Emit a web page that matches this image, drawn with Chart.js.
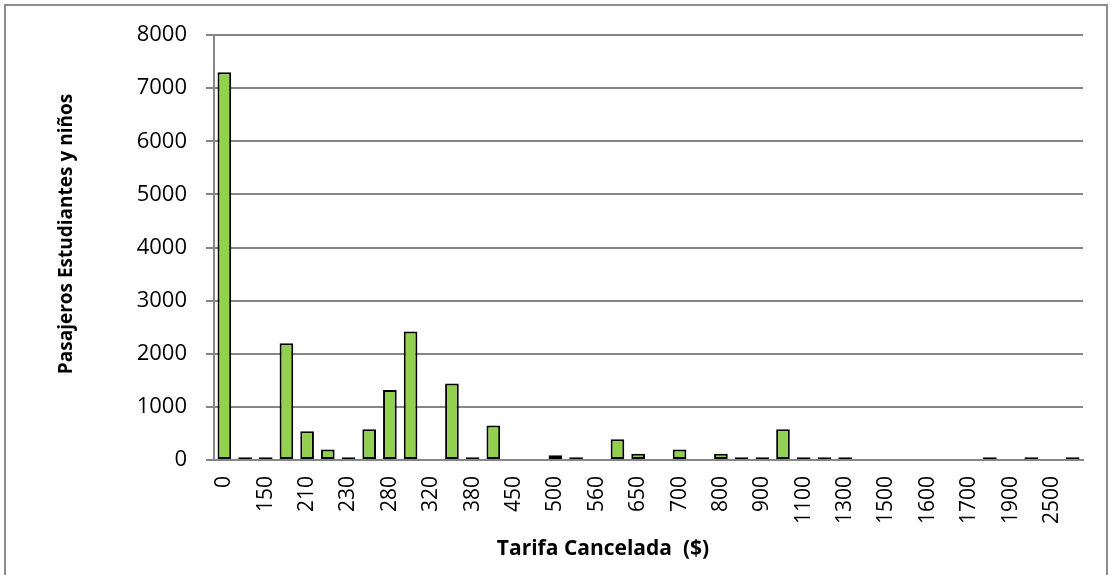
<!DOCTYPE html>
<html>
  <head>
    <title>Tarifa Cancelada</title>
    <script src="https://cdn.jsdelivr.net/npm/chart.js"></script>
    <style>
      body { margin: 0; background: #fff; }
    </style>
  </head>
  <body>
    <canvas id="tarifaChart" width="1110" height="575"></canvas>

    <script>
      // fare categories (only every other one is labelled on the axis)
      var tarifas = [
        '0', '', '150', '', '210', '', '230', '', '280', '', '320', '', '380', '',
        '450', '', '500', '', '560', '', '650', '', '700', '', '800', '', '900', '',
        '1100', '', '1300', '', '1500', '', '1600', '', '1700', '', '1900', '', '2500', ''
      ];
      // passengers (students and children) per fare
      var pasajeros = [
        7300, 50, 50, 2200, 540, 200, 50, 580, 1320, 2420, 0, 1440, 50, 650,
        0, 0, 90, 50, 0, 390, 120, 0, 200, 0, 120, 50, 50, 580,
        50, 50, 50, 0, 0, 0, 0, 0, 0, 50, 0, 50, 0, 50
      ];
      var yTicks = [0, 1000, 2000, 3000, 4000, 5000, 6000, 7000, 8000];

      var gridGrey = '#868686';
      var fontFamily = '"Open Sans", sans-serif';

      // outer frame and axis titles
      var framePlugin = {
        id: 'frame',
        beforeDraw: function (chart) {
          var ctx = chart.ctx;
          ctx.save();
          ctx.fillStyle = '#fff';
          ctx.fillRect(0, 0, chart.width, chart.height);
          ctx.strokeStyle = '#8c8c8c';
          ctx.lineWidth = 2;
          ctx.strokeRect(5, 5, chart.width - 8, chart.height + 10);
          ctx.restore();
        },
        afterDraw: function (chart) {
          var ctx = chart.ctx;
          ctx.save();
          ctx.fillStyle = '#000';
          ctx.textAlign = 'center';
          ctx.textBaseline = 'middle';
          ctx.font = 'bold 21px ' + fontFamily;
          ctx.fillText('Tarifa Cancelada  ($)', 603, 549);
          ctx.font = 'bold 19px ' + fontFamily;
          ctx.translate(67, 234);
          ctx.rotate(-Math.PI / 2);
          ctx.fillText('Pasajeros Estudiantes y niños', 0, 0);
          ctx.restore();
        }
      };

      var ctx = document.getElementById('tarifaChart').getContext('2d');
      var tarifaChart = new Chart(ctx, {
        type: 'bar',
        data: {
          labels: tarifas,
          datasets: [
            {
              label: 'Pasajeros Estudiantes y niños',
              data: pasajeros,
              backgroundColor: '#92D050',
              borderColor: '#000',
              borderWidth: 2,
              borderSkipped: false,
              barPercentage: 0.66,
              categoryPercentage: 1.0
            }
          ]
        },
        options: {
          responsive: false,
          animation: false,
          layout: {
            padding: { left: 60, right: 27, top: 35, bottom: 0 }
          },
          plugins: {
            legend: { display: false },
            tooltip: { enabled: false }
          },
          scales: {
            x: {
              grid: { display: false },
              border: { display: true, color: gridGrey, width: 2 },
              ticks: {
                autoSkip: false,
                minRotation: 90,
                maxRotation: 90,
                padding: 8,
                color: '#000',
                font: { family: fontFamily, size: 21 }
              },
              afterFit: function (scale) {
                scale.height = 575 - 460;
              }
            },
            y: {
              min: 0,
              max: 8000,
              afterBuildTicks: function (scale) {
                scale.ticks = yTicks.map(function (v) { return { value: v }; });
              },
              grid: {
                color: gridGrey,
                lineWidth: 2,
                tickLength: 8
              },
              border: { display: true, color: gridGrey, width: 2 },
              ticks: {
                padding: 19,
                color: '#000',
                font: { family: fontFamily, size: 22 },
                callback: function (value) {
                  return String(value);
                }
              },
              afterFit: function (scale) {
                scale.width = 214 - 60;
              }
            }
          }
        },
        plugins: [framePlugin]
      });
    </script>
  </body>
</html>
